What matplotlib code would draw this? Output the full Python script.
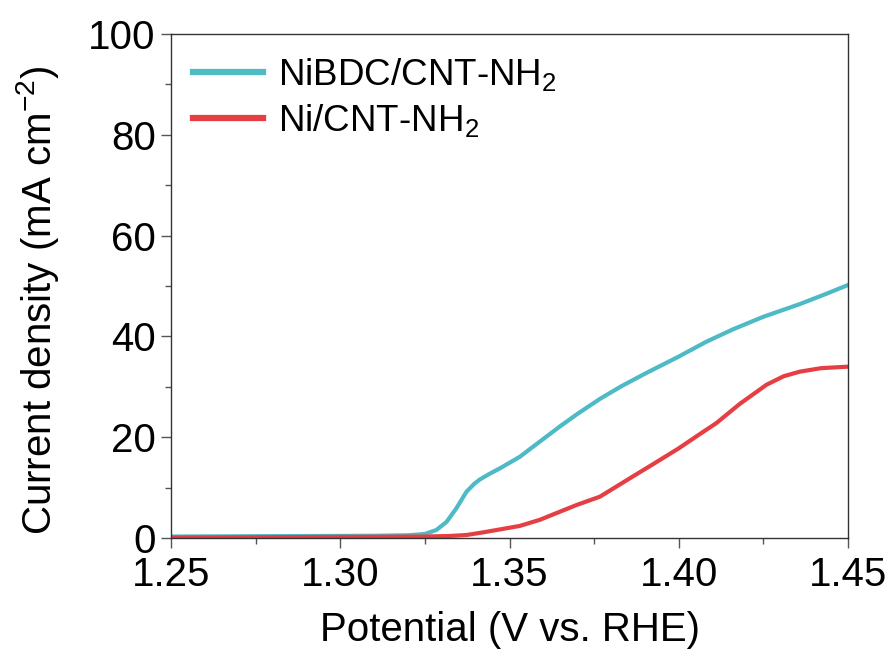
import matplotlib
matplotlib.use("Agg")
import matplotlib.pyplot as plt
from matplotlib.ticker import MultipleLocator

plt.rcParams['font.family'] = ['Liberation Sans', 'DejaVu Sans']
plt.rcParams['mathtext.fontset'] = 'custom'
plt.rcParams['mathtext.rm'] = 'Liberation Sans'
plt.rcParams['mathtext.it'] = 'Liberation Sans'

# potential (V vs. RHE) and current density (mA cm-2)
v_nibdc = [1.25, 1.27, 1.29, 1.31, 1.32, 1.325, 1.3284, 1.3314, 1.3343, 1.3373,
           1.3395, 1.3412, 1.3440, 1.3471, 1.353, 1.3589, 1.3648, 1.370, 1.3767,
           1.383, 1.39, 1.40, 1.408, 1.416, 1.425, 1.4357, 1.443, 1.45]
j_nibdc = [0.3, 0.35, 0.4, 0.45, 0.55, 0.8, 1.6, 3.2, 5.9, 9.2,
           10.7, 11.6, 12.7, 13.8, 16.1, 19.1, 22.1, 24.6, 27.6,
           30.1, 32.6, 36.0, 38.9, 41.4, 43.9, 46.4, 48.3, 50.2]

v_ni = [1.25, 1.27, 1.29, 1.31, 1.325, 1.332, 1.3373, 1.342, 1.3471, 1.353,
        1.3589, 1.3648, 1.370, 1.3767, 1.3864, 1.393, 1.40, 1.4055, 1.4111,
        1.418, 1.4259, 1.431, 1.4357, 1.442, 1.45]
j_ni = [0.1, 0.15, 0.2, 0.25, 0.3, 0.4, 0.6, 1.1, 1.7, 2.4,
        3.6, 5.2, 6.6, 8.2, 12.2, 14.9, 17.8, 20.3, 22.8,
        26.6, 30.4, 32.1, 33.0, 33.7, 34.0]

blue = '#4DBAC6'
red = '#E63F43'

fig = plt.figure(figsize=(8.92, 6.6), dpi=100)
ax = fig.add_axes([0.1917, 0.1848, 0.759, 0.7637])

ax.plot(v_nibdc, j_nibdc, color=blue, lw=3, label='NiBDC/CNT-NH$_2$')
ax.plot(v_ni, j_ni, color=red, lw=3, label='Ni/CNT-NH$_2$')

ax.set_xlim(1.25, 1.45)
ax.set_ylim(0, 100)
ax.xaxis.set_major_locator(MultipleLocator(0.05))
ax.xaxis.set_minor_locator(MultipleLocator(0.025))
ax.yaxis.set_major_locator(MultipleLocator(20))
ax.yaxis.set_minor_locator(MultipleLocator(10))
ax.xaxis.set_major_formatter(plt.FuncFormatter(lambda x, p: f'{x:.2f}'))

ax.tick_params(which='both', direction='out', top=False, right=False,
               color='#555555', width=1)
ax.tick_params(which='major', length=7, labelsize=29, pad=4)
ax.tick_params(axis='x', which='major', pad=6)
ax.tick_params(which='minor', length=4)
for s in ax.spines.values():
    s.set_color('#333333')
    s.set_linewidth(1)

ax.set_xlabel('Potential (V vs. RHE)', fontsize=29, labelpad=12)
ax.set_ylabel('Current density (mA cm$^{-2}$)', fontsize=29)
ax.yaxis.set_label_coords(-0.163, 0.472)

leg = ax.legend(loc='upper left', frameon=False, fontsize=26.5, handlelength=1.9,
                handletextpad=0.4, borderaxespad=0.2, labelspacing=0.25)
for line in leg.get_lines():
    line.set_linewidth(4.5)

fig.savefig('out.png', dpi=100)
